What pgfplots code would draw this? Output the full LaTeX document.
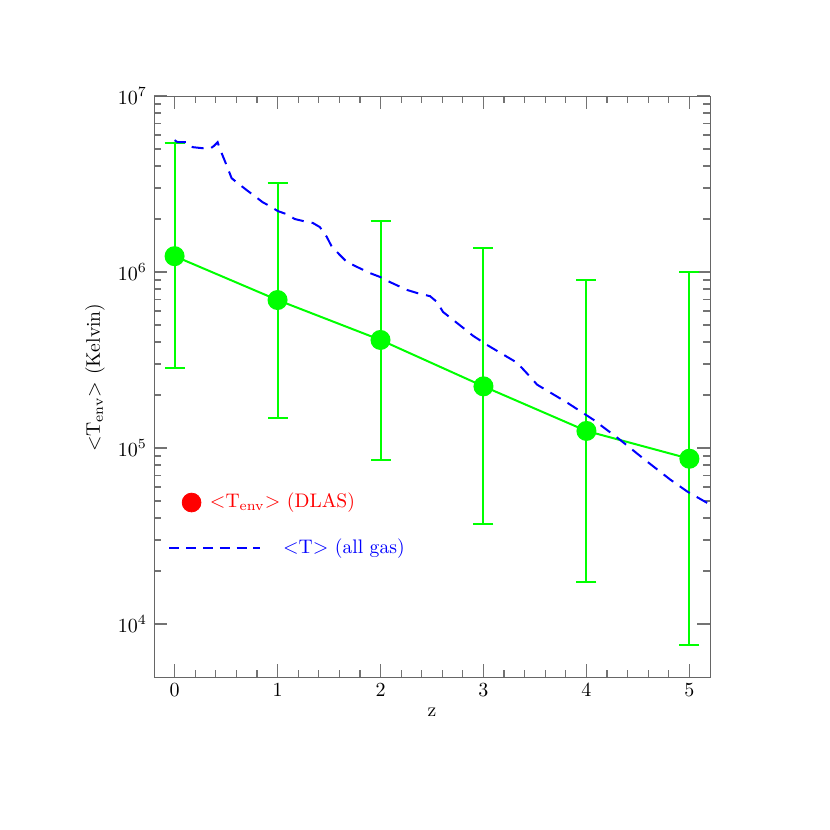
\documentclass[border=0pt]{standalone}
\usepackage{pgfplots}
\pgfplotsset{compat=1.18}
\definecolor{pggreen}{RGB}{0,255,0}
\definecolor{pgblue}{RGB}{0,0,255}
\definecolor{pgred}{RGB}{255,0,0}

\begin{document}
\begin{tikzpicture}[font=\fontsize{9.8}{12}\selectfont]
\path[use as bounding box] (-77pt,-76.5pt) rectangle (338pt,338.5pt);
\begin{axis}[
    scale only axis,
    width=278pt, height=290.5pt,
    xmin=-0.2, xmax=5.2,
    ymode=log, ymin=5000, ymax=1e7,
    xtick={0,...,5}, minor x tick num=4,
    ytick={1e4,1e5,1e6,1e7},
    major tick length=6.5pt, minor tick length=3.5pt,
    axis line style={black!60},
    every tick/.style={black!55, line width=0.6pt},
    xlabel={z},
    ylabel={$<$T$_{\mathrm{env}}$$>$ (Kelvin)},
    xlabel style={at={(axis description cs:0.5,-0.06)}, anchor=center},
    ylabel style={at={(axis description cs:-0.106,0.515)}, anchor=center},
]

% <T_env> of the DLAS, with the spread as error bars
\addplot[pggreen, line width=1pt, mark=*, mark size=4.5pt,
    mark options={solid, fill=pggreen},
    error bars/.cd, y dir=both, y explicit,
    error bar style={line width=1pt, pggreen},
    error mark options={rotate=90, mark size=5pt, line width=1pt, pggreen}]
table[x=z, y=T, y error plus=ep, y error minus=em] {
    z   T        ep        em
    0   1.23e6   4.18e6    9.44e5
    1   6.93e5   2.517e6   5.44e5
    2   4.11e5   1.539e6   3.251e5
    3   2.24e5   1.136e6   1.872e5
    4   1.25e5   7.77e5    1.076e5
    5   8.69e4   9.091e5   7.933e4
};

% <T> of all gas
\addplot[pgblue, line width=1pt, dash pattern=on 6pt off 4pt] coordinates {
    (0.0,5.61e6) (0.03,5.46e6) (0.136,5.46e6) (0.175,5.12e6) (0.272,5.05e6)
    (0.34,5.00e6) (0.38,5.19e6) (0.418,5.46e6) (0.438,5.05e6) (0.516,3.89e6)
    (0.554,3.41e6) (0.613,3.20e6) (0.700,2.92e6) (0.778,2.70e6) (0.856,2.49e6)
    (0.924,2.37e6) (1.002,2.22e6) (1.089,2.13e6) (1.167,2.00e6) (1.245,1.95e6)
    (1.342,1.90e6) (1.411,1.80e6) (1.479,1.58e6) (1.527,1.39e6) (1.605,1.25e6)
    (1.673,1.14e6) (1.770,1.07e6) (1.897,9.86e5) (1.994,9.38e5) (2.091,8.77e5)
    (2.257,7.91e5) (2.354,7.60e5) (2.481,7.29e5) (2.549,6.75e5) (2.607,5.93e5)
    (2.704,5.35e5) (2.802,4.82e5) (2.899,4.34e5) (3.035,3.85e5) (3.161,3.48e5)
    (3.327,3.05e5) (3.434,2.61e5) (3.521,2.29e5) (3.813,1.81e5) (4.066,1.45e5)
    (4.329,1.11e5) (4.591,8.36e4) (4.815,6.61e4) (4.981,5.65e4) (5.204,4.76e4)
};

% key drawn inside the axes
\addplot[only marks, mark=*, mark size=4.7pt, pgred] coordinates {(0.165,4.90e4)};
\addplot[pgblue, line width=1pt, dash pattern=on 5pt off 3.4pt] coordinates {(-0.05,2.69e4) (0.83,2.69e4)};
\node[anchor=west, text=pgred, inner sep=0pt] at (axis cs:0.34,4.90e4) {$<$T$_{\mathrm{env}}$$>$ (DLAS)};
\node[anchor=west, text=pgblue, inner sep=0pt] at (axis cs:1.05,2.69e4) {$<$T$>$ (all gas)};
\end{axis}
\end{tikzpicture}
\end{document}
